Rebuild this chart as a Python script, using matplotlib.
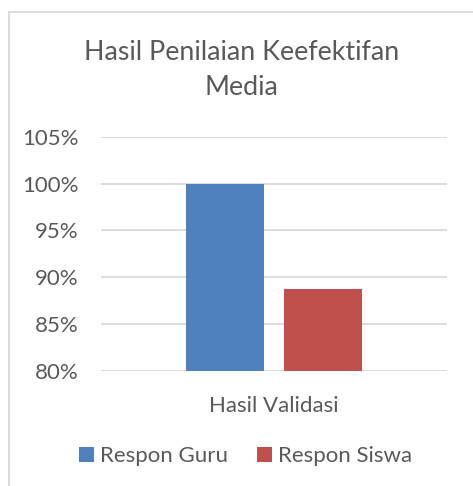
import matplotlib
matplotlib.use("Agg")
import matplotlib.pyplot as plt
from matplotlib.lines import Line2D
from matplotlib.ticker import FuncFormatter

# Data
categories = ["Hasil Validasi"]
series_names = ["Respon Guru", "Respon Siswa"]
guru_values = [1.00]
siswa_values = [0.8875]
colors = ["#4F81BD", "#C0504D"]

W, H = 473, 486
plt.rcParams['font.family'] = ['Lato', 'DejaVu Sans']
text_color = "#595959"

fig = plt.figure(figsize=(W / 100, H / 100), dpi=100)

# plot area in pixel coordinates of the reference
left, right, top, bottom = 101, 447, 137, 370.7
ax = fig.add_axes([left / W, 1 - bottom / H, (right - left) / W, (bottom - top) / H])

bar_w = 78 / 346
gap = 20 / 346
x = [0]
ax.bar([p - (bar_w + gap) / 2 for p in x], guru_values, width=bar_w,
       color=colors[0], label=series_names[0], zorder=3)
ax.bar([p + (bar_w + gap) / 2 for p in x], siswa_values, width=bar_w,
       color=colors[1], label=series_names[1], zorder=3)

ax.set_xlim(-0.5, 0.5)
ax.set_ylim(0.80, 1.05)
ax.set_yticks([0.80, 0.85, 0.90, 0.95, 1.00, 1.05])
ax.yaxis.set_major_formatter(FuncFormatter(lambda v, _: f"{v * 100:.0f}%"))
ax.grid(axis="y", color="#D9D9D9", linewidth=1.3, zorder=0)
ax.set_xticks(x)
ax.set_xticklabels(categories)
ax.tick_params(axis="both", length=0, labelsize=16, colors=text_color)
ax.tick_params(axis="y", pad=16)
ax.tick_params(axis="x", pad=18)
for s in ax.spines.values():
    s.set_visible(False)

fig.text(241.5 / W, 1 - 69.5 / H, "Hasil Penilaian Keefektifan\nMedia", ha="center",
         va="center", fontsize=19.3, color=text_color, linespacing=1.5)

ax.legend(loc="center", bbox_to_anchor=(246 / W, 1 - 456 / H), bbox_transform=fig.transFigure,
          ncol=2, frameon=False, fontsize=16, labelcolor=text_color,
          handlelength=0.65, handleheight=0.65, handletextpad=0.3, columnspacing=1.3)

# chart border (left and top edges visible)
fig.add_artist(Line2D([8.5 / W, 8.5 / W], [0, 1 - 12 / H], color="#D9D9D9", lw=1.3,
                      transform=fig.transFigure))
fig.add_artist(Line2D([8.5 / W, 1], [1 - 12 / H, 1 - 12 / H], color="#D9D9D9", lw=1.3,
                      transform=fig.transFigure))

fig.savefig("out.png", dpi=100, facecolor="white")
